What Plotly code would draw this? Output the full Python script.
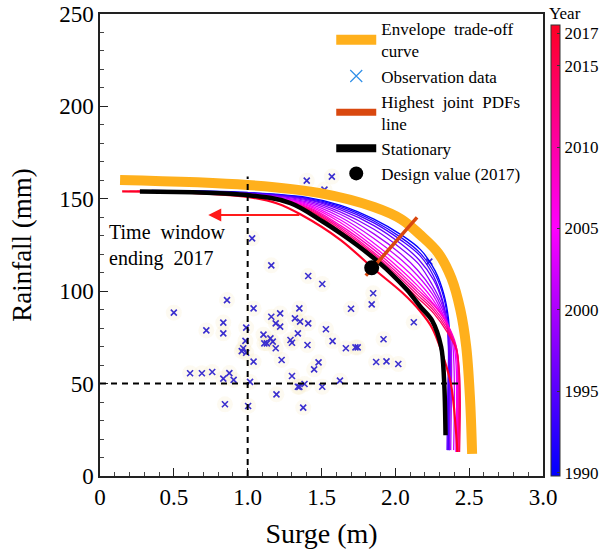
import plotly.graph_objects as go
from plotly.colors import sample_colorscale

# ---------------- data ----------------
obs_surge = [0.50, 0.86, 1.04, 0.72, 0.835, 0.835, 0.99, 0.985, 0.97, 0.96, 0.99, 1.04,
             0.61, 0.69, 0.76, 0.876, 0.835, 0.905, 1.016, 0.846, 1.003, 1.107, 1.113, 1.13,
             1.16, 1.22, 1.19, 1.22, 1.154, 1.17, 1.19, 1.23, 1.32, 1.35, 1.34, 1.29, 1.30,
             1.30, 1.195, 1.34, 1.40, 1.57, 1.52, 1.03, 1.16, 1.41, 1.505, 1.85, 1.84, 1.70,
             2.125, 1.92, 1.87, 1.94, 2.02, 1.355, 1.41, 1.53, 1.575, 1.405, 1.665, 1.73,
             1.745, 1.48, 1.45, 1.35, 1.385, 1.505, 1.625, 1.376, 2.23]
obs_rain = [88.4, 95.2, 90.7, 78.8, 83.0, 77.2, 80.3, 73.1, 69.1, 67.6, 66.7, 61.9,
            55.6, 55.6, 56.3, 55.7, 52.7, 52.0, 50.9, 38.8, 37.9, 76.5, 71.8, 71.8,
            86.2, 88.0, 82.6, 80.8, 74.5, 72.7, 69.1, 62.8, 85.3, 90.7, 77.2, 73.6, 72.1,
            54.1, 44.2, 48.3, 159.8, 162.0, 155.0, 128.6, 114.0, 108.2, 103.9, 98.9, 92.9, 90.5,
            83.2, 74.0, 61.7, 62.0, 60.6, 83.5, 82.6, 79.4, 73.0, 70.9, 69.1, 69.6,
            69.6, 61.5, 57.7, 48.2, 49.8, 48.3, 51.6, 37.0, 116.0]

env_surge = [0.136, 1.0, 1.49, 1.855, 2.04, 2.17, 2.29, 2.38, 2.44, 2.48, 2.505, 2.52]
env_rain = [160.2, 157.5, 153.1, 145.6, 139.0, 130.4, 120.7, 107.0, 90.0, 70.0, 43.0, 12.0]

stat_surge = [0.27, 1.0, 1.29, 1.51, 1.63, 1.74, 1.855, 1.97, 2.08, 2.17, 2.25, 2.31, 2.33, 2.34]
stat_rain = [154.0, 152.0, 147.7, 137.6, 131.3, 125.0, 117.8, 109.7, 100.6, 91.6, 84.0, 70.0, 52.0, 22.0]

pdf_surge = [1.80, 2.147]
pdf_rain = [108.4, 139.9]

design_surge = [1.84]
design_rain = [112.7]

years = [1990, 1992, 1994, 1996, 1998, 2000, 2002, 2004, 2006, 2008, 2010, 2012, 2014, 2017]
curve_surge = {
    1990: [0.35, 1.0, 1.4, 1.63, 1.855, 2.04, 2.17, 2.27, 2.33, 2.36, 2.37, 2.37, 2.365],
    1992: [0.35, 1.0, 1.4, 1.63, 1.855, 2.04, 2.17, 2.27, 2.33, 2.355, 2.365, 2.365, 2.36],
    1994: [0.35, 1.0, 1.4, 1.63, 1.855, 2.04, 2.17, 2.26, 2.32, 2.35, 2.36, 2.36, 2.355],
    1996: [0.35, 1.0, 1.4, 1.63, 1.855, 2.04, 2.16, 2.26, 2.32, 2.35, 2.36, 2.355, 2.35],
    1998: [0.35, 1.0, 1.4, 1.63, 1.855, 2.04, 2.16, 2.25, 2.32, 2.36, 2.37, 2.37, 2.365],
    2000: [0.35, 1.0, 1.4, 1.63, 1.855, 2.04, 2.15, 2.25, 2.32, 2.37, 2.38, 2.38, 2.375],
    2002: [0.30, 1.0, 1.4, 1.63, 1.855, 2.04, 2.15, 2.25, 2.32, 2.38, 2.395, 2.40, 2.395],
    2004: [0.30, 1.0, 1.4, 1.63, 1.855, 2.04, 2.15, 2.25, 2.33, 2.39, 2.41, 2.415, 2.41],
    2006: [0.30, 1.0, 1.4, 1.63, 1.855, 2.04, 2.15, 2.25, 2.34, 2.40, 2.42, 2.42, 2.415],
    2008: [0.25, 1.0, 1.4, 1.63, 1.855, 2.04, 2.15, 2.26, 2.35, 2.41, 2.425, 2.425, 2.42],
    2010: [0.25, 1.0, 1.4, 1.63, 1.855, 2.04, 2.15, 2.26, 2.35, 2.41, 2.43, 2.43, 2.425],
    2012: [0.20, 1.0, 1.4, 1.63, 1.855, 2.04, 2.15, 2.26, 2.35, 2.415, 2.43, 2.435, 2.43],
    2014: [0.20, 1.0, 1.4, 1.63, 1.855, 2.04, 2.15, 2.26, 2.35, 2.415, 2.435, 2.44, 2.435],
    2017: [0.15, 0.6, 1.0, 1.2, 1.36, 1.63, 1.855, 2.05, 2.17, 2.25, 2.31, 2.376, 2.41, 2.42],
}
curve_rain = {
    1990: [154.5, 153.4, 150.8, 146.5, 139.0, 130.5, 122.5, 111.0, 98.0, 85.0, 70.0, 45.0, 14.0],
    1992: [154.4, 153.3, 150.4, 145.8, 138.0, 129.0, 120.5, 109.0, 96.0, 84.0, 70.0, 45.0, 14.0],
    1994: [154.3, 153.1, 150.0, 145.0, 137.0, 127.5, 119.0, 108.0, 95.0, 83.0, 70.0, 45.0, 14.0],
    1996: [154.2, 153.0, 149.5, 144.0, 135.5, 125.5, 117.0, 106.0, 94.0, 82.0, 70.0, 45.0, 14.0],
    1998: [154.1, 152.8, 149.0, 142.8, 133.5, 123.0, 114.5, 103.5, 92.0, 80.0, 68.0, 45.0, 14.0],
    2000: [154.0, 152.6, 148.3, 141.5, 131.0, 120.0, 111.5, 101.0, 90.0, 78.0, 66.0, 45.0, 14.0],
    2002: [154.0, 152.4, 147.6, 140.0, 128.5, 117.0, 108.5, 98.5, 88.0, 76.0, 64.0, 45.0, 14.0],
    2004: [154.0, 152.3, 147.0, 138.5, 126.0, 114.0, 105.5, 96.0, 85.5, 74.0, 62.0, 45.0, 13.0],
    2006: [154.0, 152.2, 146.4, 137.0, 124.0, 111.5, 103.0, 94.0, 84.0, 72.0, 60.0, 40.0, 13.0],
    2008: [154.0, 152.1, 145.8, 135.5, 122.5, 109.5, 101.0, 92.5, 82.5, 71.0, 58.0, 40.0, 13.0],
    2010: [154.0, 152.0, 145.3, 134.5, 121.0, 108.0, 99.5, 91.0, 81.0, 70.0, 57.0, 40.0, 13.0],
    2012: [154.0, 151.9, 144.8, 133.5, 120.0, 106.5, 98.0, 89.5, 79.5, 69.0, 56.0, 40.0, 13.0],
    2014: [154.0, 151.8, 144.3, 132.5, 119.0, 105.0, 96.5, 88.0, 78.0, 68.0, 55.0, 40.0, 13.0],
    2017: [154.0, 153.3, 151.0, 147.5, 141.5, 127.7, 112.0, 99.0, 89.0, 80.0, 68.0, 50.0, 25.0, 13.0],
}

x_ticks = [0, 0.5, 1.0, 1.5, 2.0, 2.5, 3.0]
x_ticklabels = ["0", "0.5", "1.0", "1.5", "2.0", "2.5", "3.0"]
y_ticks = [0, 50, 100, 150, 200, 250]
cb_ticks = [1990, 1995, 2000, 2005, 2010, 2015, 2017]

# ---------------- style ----------------
FONT = "Liberation Serif, Times New Roman, serif"
cscale = [[0.0, "#0000ff"], [0.5556, "#ff00ff"], [1.0, "#ff0024"]]
YMIN, YMAX = 1990, 2017
CB_MIN, CB_MAX = 1989.8, 2017.5

fig = go.Figure()

# faint halo behind observation points
fig.add_trace(go.Scatter(x=obs_surge, y=obs_rain, mode="markers",
                         marker=dict(symbol="circle", size=16, color="rgba(245,225,180,0.18)"),
                         showlegend=False, hoverinfo="skip"))
fig.add_trace(go.Scatter(x=obs_surge, y=obs_rain, mode="markers",
                         marker=dict(symbol="x-thin", size=6, line=dict(width=1.6, color="#3b2fcf")),
                         showlegend=False))

# envelope
fig.add_trace(go.Scatter(x=env_surge, y=env_rain, mode="lines", line=dict(color="#FFB01C", width=10, shape="spline"),
                         name="Envelope  trade-off<br>curve", legendrank=1))

# yearly curves
for yr in years:
    col = sample_colorscale(cscale, [(yr - YMIN) / (YMAX - YMIN)])[0]
    w = 2.2 if yr == 2017 else 1.3
    fig.add_trace(go.Scatter(x=curve_surge[yr], y=curve_rain[yr], mode="lines",
                             line=dict(color=col, width=w, shape="spline"), showlegend=False))

# stationary
fig.add_trace(go.Scatter(x=stat_surge, y=stat_rain, mode="lines", line=dict(color="black", width=4.5, shape="spline"),
                         showlegend=False))

# highest joint PDFs line
fig.add_trace(go.Scatter(x=pdf_surge, y=pdf_rain, mode="lines", line=dict(color="#D9480F", width=3.5),
                         showlegend=False))

# design value
fig.add_trace(go.Scatter(x=design_surge, y=design_rain, mode="markers",
                         marker=dict(symbol="circle", size=15, color="black"),
                         showlegend=False))

# legend-only entries (thicker swatches as in the reference legend)
fig.add_trace(go.Scatter(x=[None], y=[None], mode="markers",
                         marker=dict(symbol="x-thin", size=12, line=dict(width=1.2, color="#2F8FE8")),
                         name="Observation data", legendrank=2))
fig.add_trace(go.Scatter(x=[None], y=[None], mode="lines", line=dict(color="#D9480F", width=7),
                         name="Highest  joint  PDFs<br>line", legendrank=3))
fig.add_trace(go.Scatter(x=[None], y=[None], mode="lines", line=dict(color="black", width=8),
                         name="Stationary", legendrank=4))
fig.add_trace(go.Scatter(x=[None], y=[None], mode="markers", marker=dict(symbol="circle", size=14, color="black"),
                         name="Design value (2017)", legendrank=5))

# colorbar
cb_scale = [[0.0, "#0000ff"], [(2005 - CB_MIN) / (CB_MAX - CB_MIN), "#ff00ff"], [1.0, "#ff0024"]]
fig.add_trace(go.Scatter(x=[None], y=[None], mode="markers", showlegend=False,
                         marker=dict(color=[CB_MIN], colorscale=cb_scale, cmin=CB_MIN, cmax=CB_MAX, showscale=True,
                                     colorbar=dict(x=1.018, xanchor="left", y=0, yanchor="bottom",
                                                   lenmode="pixels", len=451, thickness=9,
                                                   outlinewidth=1, outlinecolor="#333",
                                                   tickvals=cb_ticks, ticks="inside", ticklen=3,
                                                   tickcolor="#333", xpad=0, ypad=0,
                                                   tickfont=dict(family=FONT, size=17, color="black")))))

# dashed guide lines
fig.add_shape(type="line", x0=1.0, x1=1.0, y0=0, y1=162, line=dict(color="black", width=2, dash="6px,5px"))
fig.add_shape(type="line", x0=0, x1=2.455, y0=50, y1=50, line=dict(color="black", width=2, dash="6px,5px"))

# arrow + text
fig.add_annotation(x=0.733, y=141.2, ax=1.36, ay=141.2, xref="x", yref="y", axref="x", ayref="y",
                   showarrow=True, arrowhead=2, arrowsize=1.3, arrowwidth=2, arrowcolor="#ff1a1a", text="")
fig.add_annotation(x=0.05, y=124.5, xref="x", yref="y", xanchor="left", yanchor="middle", showarrow=False,
                   align="left", text="Time  window<br>ending  2017",
                   font=dict(family=FONT, size=20, color="black"))
fig.add_annotation(x=1.0497, y=1.0, xref="paper", yref="paper", xanchor="center", yanchor="middle",
                   showarrow=False, text="Year", font=dict(family=FONT, size=17, color="black"), yshift=1)

axis_common = dict(showline=True, linecolor="#222", linewidth=1.5, mirror=True, ticks="inside",
                   tickcolor="#222", showgrid=False, zeroline=False, ticklabeloverflow="allow",
                   tickfont=dict(family=FONT, size=23, color="black"))
fig.update_xaxes(range=[0, 3], tickvals=x_ticks, ticktext=x_ticklabels, ticklen=8,
                 minor=dict(dtick=0.1, ticks="inside", ticklen=4, tickcolor="#444"),
                 title=dict(text="Surge (m)", font=dict(family=FONT, size=28, color="black"), standoff=14),
                 **axis_common)
fig.update_yaxes(range=[0, 250], tickvals=y_ticks, ticklen=8,
                 minor=dict(dtick=10, ticks="inside", ticklen=4, tickcolor="#444"),
                 title=dict(text="Rainfall (mm)", font=dict(family=FONT, size=27, color="black"), standoff=20),
                 **axis_common)

fig.update_layout(width=612, height=554, margin=dict(l=100, r=69, t=14, b=78, autoexpand=False),
                  paper_bgcolor="white", plot_bgcolor="white",
                  legend=dict(x=0.522, y=1.006, xanchor="left", yanchor="top", bgcolor="rgba(0,0,0,0)",
                              font=dict(family=FONT, size=17, color="black"), itemwidth=40,
                              tracegroupgap=0, traceorder="normal"),
                  showlegend=True)

# remove the browser's default 8px page margin so the figure fills the window; hide the modebar
fig.write_html("out.html", config={"displayModeBar": False},
               post_script="document.body.style.margin='0px';")
